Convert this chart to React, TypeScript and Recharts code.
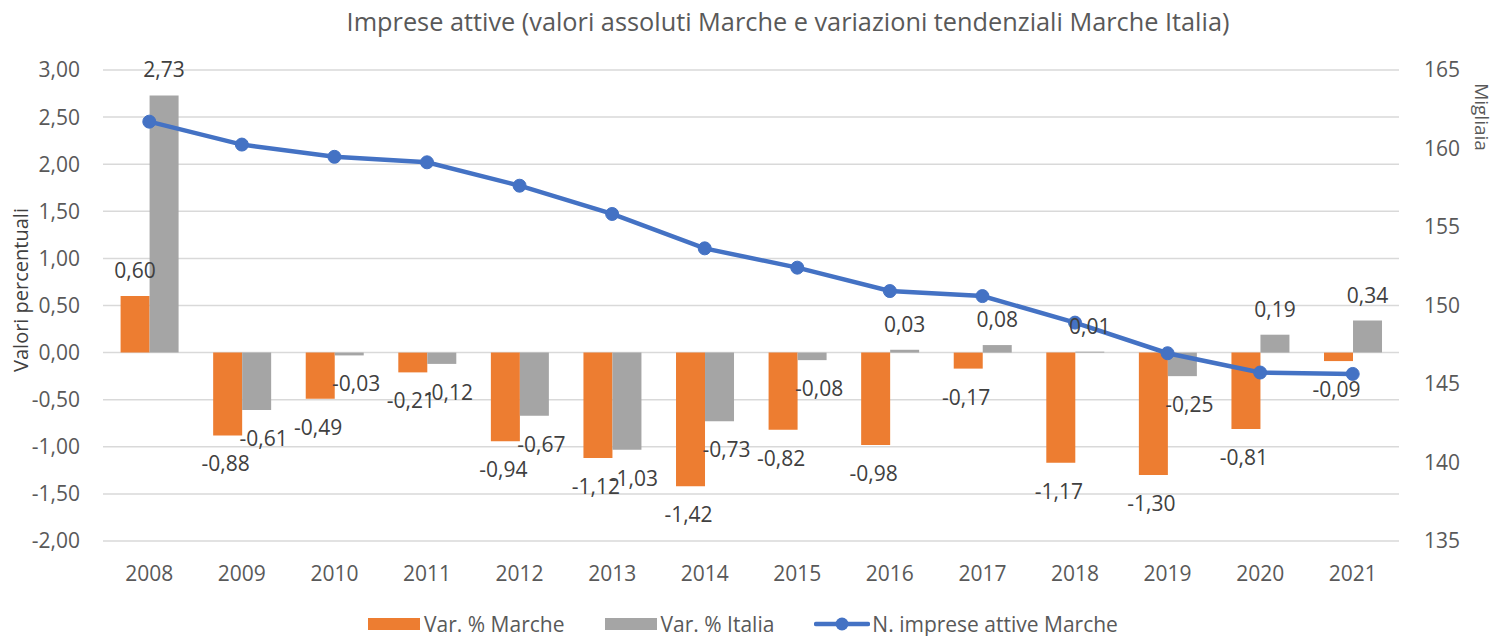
import React from 'react';
import { ComposedChart, Bar, Line, XAxis, YAxis, CartesianGrid, Legend, LabelList } from 'recharts';

const years = ['2008', '2009', '2010', '2011', '2012', '2013', '2014', '2015', '2016', '2017', '2018', '2019', '2020', '2021'];
const varMarche = [0.6, -0.88, -0.49, -0.21, -0.94, -1.12, -1.42, -0.82, -0.98, -0.17, -1.17, -1.3, -0.81, -0.09];
const varItalia = [2.73, -0.61, -0.03, -0.12, -0.67, -1.03, -0.73, -0.08, 0.03, 0.08, 0.01, -0.25, 0.19, 0.34];
const impreseMarche = [161.71, 160.25, 159.47, 159.12, 157.63, 155.83, 153.64, 152.41, 150.92, 150.6, 148.91, 146.96, 145.73, 145.64];

const leftTicks = [-2, -1.5, -1, -0.5, 0, 0.5, 1, 1.5, 2, 2.5, 3];
const rightTicks = [135, 140, 145, 150, 155, 160, 165];

const FONT = '"Open Sans", sans-serif';
const ORANGE = '#ED7D31';
const GRAY = '#A5A5A5';
const BLUE = '#4472C4';

const data = years.map((year, i) => ({
  year,
  marche: varMarche[i],
  italia: varItalia[i],
  imprese: impreseMarche[i],
}));

const fmt = (v: number) => v.toFixed(2).replace('.', ',');

// shiftNeg: small horizontal nudge for labels under negative bars (Excel places them slightly off-centre)
function ValueLabel(props: any) {
  const vb = props.viewBox || {};
  const x = props.x ?? vb.x;
  const y = props.y ?? vb.y;
  const width = props.width ?? vb.width;
  const height = props.height ?? vb.height;
  const value = Number(props.value);
  const top = Math.min(y, y + height);
  const bottom = Math.max(y, y + height);
  const cy = value >= 0 ? top - 26 : bottom + 28;
  const dx = value < 0 ? props.shiftNeg || 0 : 0;
  return (
    <text
      x={x + width / 2 + dx}
      y={cy}
      textAnchor="middle"
      dominantBaseline="central"
      fill="#404040"
      fontSize={21}
      fontFamily={FONT}
    >
      {fmt(value)}
    </text>
  );
}

function LegendContent() {
  const item = { display: 'flex', alignItems: 'center', marginRight: 40 } as const;
  const text = { marginLeft: 4, color: '#595959', fontSize: 21, fontFamily: FONT } as const;
  return (
    <div style={{ display: 'flex', justifyContent: 'center', alignItems: 'center', marginLeft: -8 }}>
      <div style={item}>
        <div style={{ width: 52, height: 12, background: ORANGE }} />
        <span style={text}>Var. % Marche</span>
      </div>
      <div style={item}>
        <div style={{ width: 52, height: 12, background: GRAY }} />
        <span style={text}>Var. % Italia</span>
      </div>
      <div style={{ ...item, marginRight: 0 }}>
        <svg width={56} height={16}>
          <line x1={2} y1={8} x2={54} y2={8} stroke={BLUE} strokeWidth={4.5} strokeLinecap="round" />
          <circle cx={28} cy={8} r={6.5} fill={BLUE} />
        </svg>
        <span style={{ ...text, marginLeft: 2 }}>N. imprese attive Marche</span>
      </div>
    </div>
  );
}

export default function App() {
  return (
    <div style={{ position: 'absolute', left: 0, top: 0, width: 1494, height: 636, background: '#fff', fontFamily: FONT }}>
      <div
        style={{
          position: 'absolute', left: 0, width: 1576, top: 4, textAlign: 'center',
          fontSize: 25.3, color: '#595959', fontFamily: FONT, whiteSpace: 'nowrap',
        }}
      >
        Imprese attive (valori assoluti Marche e variazioni tendenziali Marche Italia)
      </div>
      <div
        style={{
          position: 'absolute', left: 20, top: 290, transform: 'translate(-50%, -50%) rotate(-90deg)',
          fontSize: 20, color: '#404040', whiteSpace: 'nowrap', fontFamily: FONT,
        }}
      >
        Valori percentuali
      </div>
      <div
        style={{
          position: 'absolute', left: 1482, top: 117, transform: 'translate(-50%, -50%) rotate(90deg)',
          fontSize: 19, color: '#595959', whiteSpace: 'nowrap', fontFamily: FONT,
        }}
      >
        Migliaia
      </div>
      <ComposedChart
        width={1494}
        height={636}
        data={data}
        margin={{ top: 70, right: 0, bottom: 0, left: 0 }}
        barCategoryGap="19%"
        barGap={0}
      >
        <CartesianGrid yAxisId="left" vertical={false} stroke="#D9D9D9" strokeWidth={1.5} />
        <XAxis
          dataKey="year"
          axisLine={false}
          tickLine={false}
          tickSize={0}
          tickMargin={25}
          height={69}
          tick={{ fill: '#595959', fontSize: 21, fontFamily: FONT }}
        />
        <YAxis
          yAxisId="left"
          orientation="left"
          width={103}
          domain={[-2, 3]}
          ticks={leftTicks}
          interval={0}
          axisLine={false}
          tickLine={false}
          tickSize={0}
          tickMargin={23}
          tickFormatter={fmt}
          tick={{ fill: '#595959', fontSize: 21, fontFamily: FONT }}
        />
        <YAxis
          yAxisId="right"
          orientation="right"
          width={95}
          domain={[135, 165]}
          ticks={rightTicks}
          interval={0}
          axisLine={false}
          tickLine={false}
          tickSize={0}
          tickMargin={25}
          tick={{ fill: '#595959', fontSize: 21, fontFamily: FONT }}
        />
        <Legend
          content={<LegendContent />}
          wrapperStyle={{ position: 'absolute', left: 0, top: 610, width: 1494, height: 26 }}
        />
        <Bar yAxisId="left" dataKey="marche" name="Var. % Marche" fill={ORANGE} isAnimationActive={false}>
          <LabelList dataKey="marche" content={<ValueLabel shiftNeg={-2} />} />
        </Bar>
        <Bar yAxisId="left" dataKey="italia" name="Var. % Italia" fill={GRAY} isAnimationActive={false}>
          <LabelList dataKey="italia" content={<ValueLabel shiftNeg={7} />} />
        </Bar>
        <Line
          yAxisId="right"
          dataKey="imprese"
          name="N. imprese attive Marche"
          type="linear"
          stroke={BLUE}
          strokeWidth={4.5}
          dot={{ r: 6.5, fill: BLUE, stroke: BLUE, strokeWidth: 1 }}
          activeDot={false}
          isAnimationActive={false}
        />
      </ComposedChart>
    </div>
  );
}
